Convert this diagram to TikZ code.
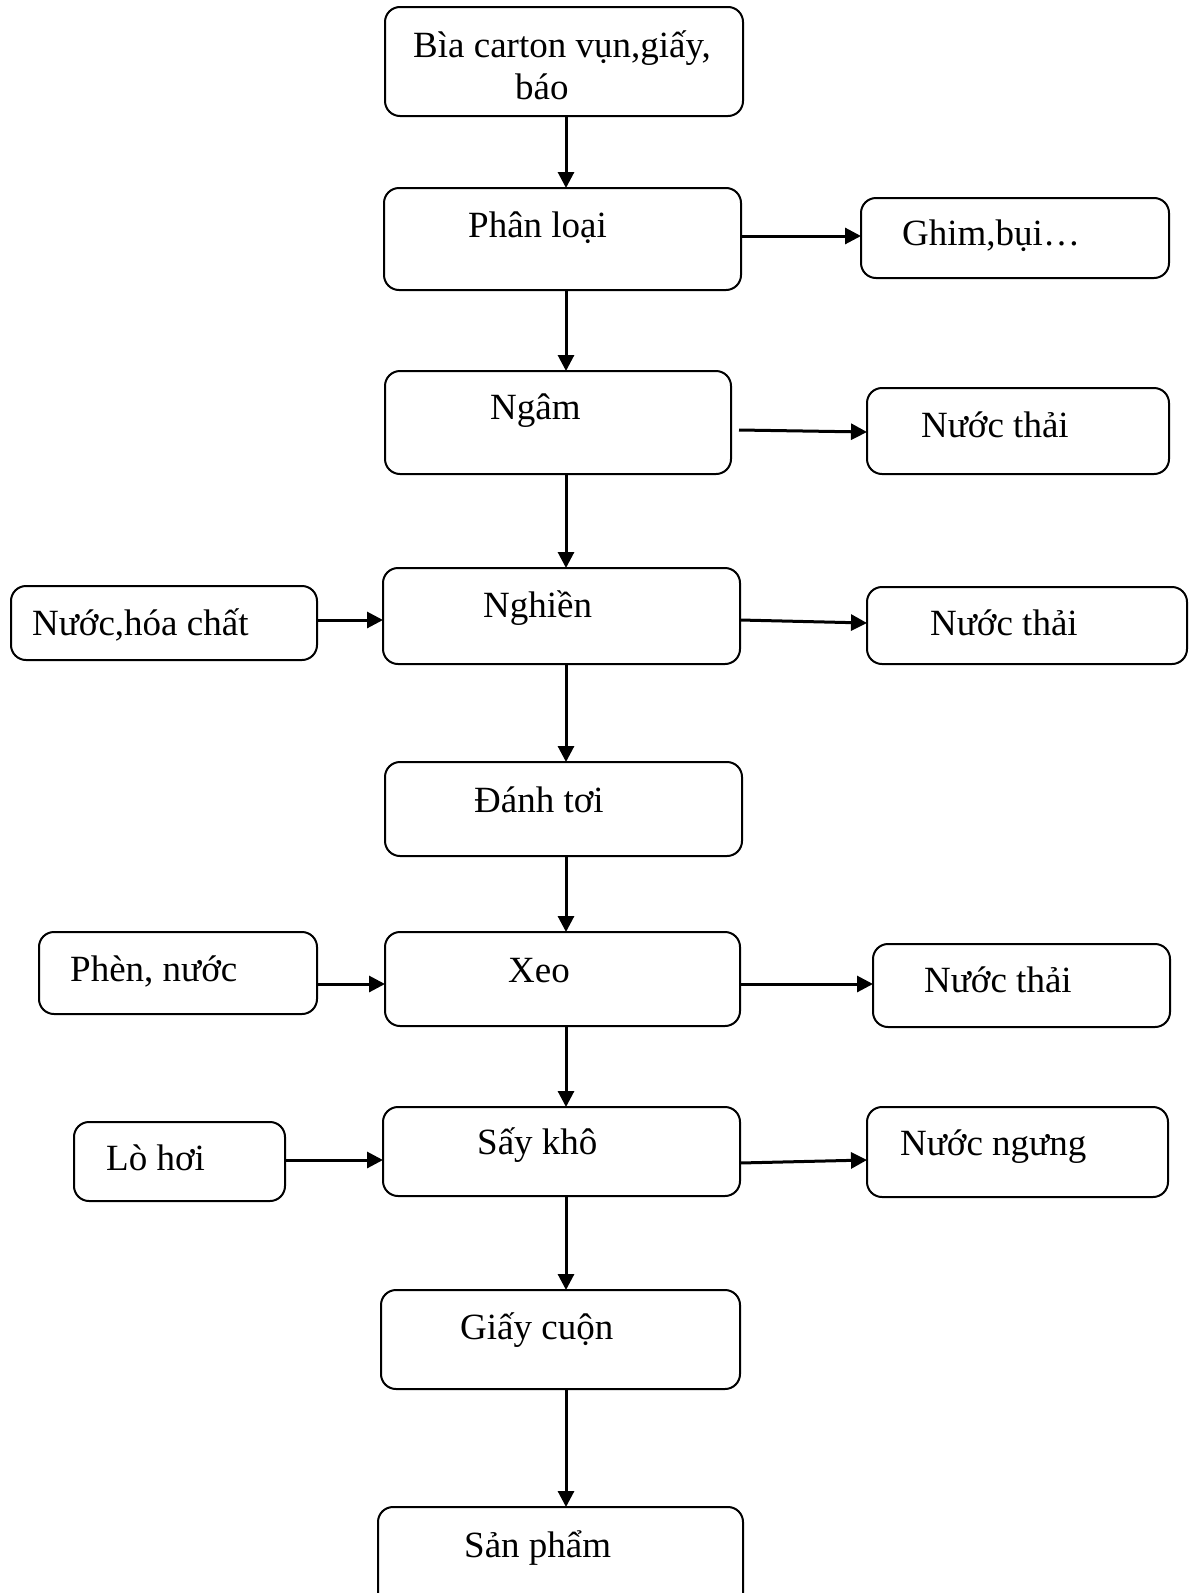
\documentclass[tikz,border=0pt]{standalone}
\usepackage{fontspec}
\setmainfont{Liberation Serif}
\usetikzlibrary{arrows.meta}
\begin{document}
\begin{tikzpicture}[x=1pt,y=-1pt,
  box/.style={draw,line width=2pt,rounded corners=15pt,inner sep=0pt,outer sep=0pt},
  txt/.style={anchor=base west,inner sep=0pt,font=\fontsize{37}{40}\selectfont},
  arr/.style={line width=3pt,-{Triangle[length=16pt,width=16pt]}}]
\useasboundingbox (0,0) rectangle (1189,1593);
% boxes
\node[box,minimum width=358pt,minimum height=109pt] (bia) at (564,61.5) {};
\node[box,minimum width=357pt,minimum height=102pt] (phan) at (562.5,239) {};
\node[box,minimum width=308pt,minimum height=80pt] (ghim) at (1015,238) {};
\node[box,minimum width=346pt,minimum height=103pt] (ngam) at (558,422.5) {};
\node[box,minimum width=302pt,minimum height=86pt] (nt1) at (1018,431) {};
\node[box,minimum width=357pt,minimum height=96pt] (nghien) at (561.5,616) {};
\node[box,minimum width=306pt,minimum height=74pt] (nuoc) at (164,623) {};
\node[box,minimum width=320pt,minimum height=77pt] (nt2) at (1027,625.5) {};
\node[box,minimum width=357pt,minimum height=94pt] (danh) at (563.5,809) {};
\node[box,minimum width=278pt,minimum height=82pt] (phen) at (178,973) {};
\node[box,minimum width=355pt,minimum height=94pt] (xeo) at (562.5,979) {};
\node[box,minimum width=297pt,minimum height=83pt] (nt3) at (1021.5,985.5) {};
\node[box,minimum width=211pt,minimum height=79pt] (lo) at (179.5,1161.5) {};
\node[box,minimum width=357pt,minimum height=89pt] (say) at (561.5,1151.5) {};
\node[box,minimum width=301pt,minimum height=90pt] (ngung) at (1017.5,1152) {};
\node[box,minimum width=359pt,minimum height=99pt] (giay) at (560.5,1339.5) {};
\node[box,minimum width=365pt,minimum height=103pt] (san) at (560.5,1558.5) {};
% texts
\node[txt] (tbia1) at (413,57) {Bìa carton vụn,giấy,};
\node[txt] (tbia2) at (515,99) {báo};
\node[txt] (tphan) at (468,237) {Phân loại};
\node[txt] (tghim) at (902,245) {Ghim,bụi…};
\node[txt] (tngam) at (490,419) {Ngâm};
\node[txt] (tnt1) at (921,437) {Nước thải};
\node[txt] (tnghien) at (483,617) {Nghiền};
\node[txt] (tnuoc) at (32,635) {Nước,hóa chất};
\node[txt] (tnt2) at (930,635) {Nước thải};
\node[txt] (tdanh) at (474,812) {Đánh tơi};
\node[txt] (tphen) at (70,981) {Phèn, nước};
\node[txt] (txeo) at (508,982) {Xeo};
\node[txt] (tnt3) at (924,992) {Nước thải};
\node[txt] (tlo) at (106,1170) {Lò hơi};
\node[txt] (tsay) at (477,1154) {Sấy khô};
\node[txt] (tngung) at (900,1155) {Nước ngưng};
\node[txt] (tgiay) at (460,1339) {Giấy cuộn};
\node[txt] (tsan) at (464,1557) {Sản phẩm};
% vertical connectors
\coordinate (ax) at (566,0);
\draw[arr] (bia.south -| ax) -- (phan.north -| ax);
\draw[arr] (phan.south -| ax) -- (ngam.north -| ax);
\draw[arr] (ngam.south -| ax) -- (nghien.north -| ax);
\draw[arr] (nghien.south -| ax) -- (danh.north -| ax);
\draw[arr] (danh.south -| ax) -- (xeo.north -| ax);
\draw[arr] (xeo.south -| ax) -- (say.north -| ax);
\draw[arr] (say.south -| ax) -- (giay.north -| ax);
\draw[arr] (giay.south -| ax) -- (san.north -| ax);
% horizontal connectors
\draw[arr] (phan.east |- 0,236) -- (ghim.west |- 0,236);
\draw[arr] ([xshift=8pt,yshift=-7.5pt]ngam.east) -- ([yshift=-1pt]nt1.west);
\draw[arr] ([yshift=-4pt]nghien.east) -- ([yshift=2.5pt]nt2.west);
\draw[arr] (nuoc.east |- 0,620) -- (nghien.west |- 0,620);
\draw[arr] (phen.east |- 0,984) -- (xeo.west |- 0,984);
\draw[arr] (xeo.east |- 0,984) -- (nt3.west |- 0,984);
\draw[arr] (lo.east |- 0,1160) -- (say.west |- 0,1160);
\draw[arr] ([yshift=-11.5pt]say.east) -- ([yshift=-8pt]ngung.west);
\end{tikzpicture}
\end{document}
